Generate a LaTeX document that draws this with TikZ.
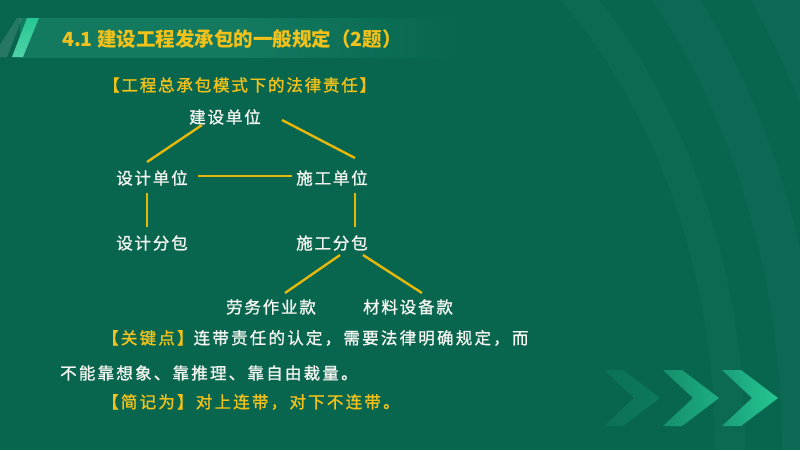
\documentclass[tikz,border=0pt]{standalone}
\usepackage{fontspec}
\setmainfont{Noto Sans CJK SC}
\newfontfamily\cjk[LetterSpace=11,FakeBold=1.2]{Noto Sans CJK SC}
\newfontfamily\cjkp[LetterSpace=13.5,FakeBold=1.2]{Noto Sans CJK SC}
\usetikzlibrary{calc}
\definecolor{bg}{HTML}{08664F}
\definecolor{band}{HTML}{137A60}
\definecolor{ylw}{HTML}{F2C21A}
\definecolor{lnc}{HTML}{E6B80C}
\definecolor{wht}{HTML}{F4F4F0}
\definecolor{chA}{HTML}{1A9E78}
\definecolor{chB}{HTML}{25C793}
\tikzset{
  lbl/.style={inner sep=0pt, text=wht, font=\cjk\fontsize{16.5}{18}\selectfont},
  hdrs/.style={inner sep=0pt, anchor=west, text=ylw, font=\cjk\fontsize{16.5}{18}\selectfont},
  para/.style={inner sep=0pt, anchor=west, text=wht, font=\cjkp\fontsize{16.5}{18}\selectfont},
  link/.style={draw=lnc, line width=2.4pt},
}
\begin{document}
\begin{tikzpicture}[x=1pt,y=-1pt]
\useasboundingbox (0,0) rectangle (800,450);
\fill[bg] (0,0) rectangle (800,450);
% faint background arcs
\begin{scope}
\clip (0,0) rectangle (800,450);
\draw[white, opacity=0.025, line width=40pt] (250,450) ellipse [x radius=552, y radius=709];
\draw[white, opacity=0.02, line width=30pt] (250,450) ellipse [x radius=480, y radius=620];
\draw[white, opacity=0.025, line width=50pt] (250,450) ellipse [x radius=640, y radius=800];
\end{scope}
% title band
\shade[left color=band, right color=bg, middle color=band] (20,18) rectangle (455,57);
\fill[white, opacity=0.12] (17,18) -- (22,18) -- (7,57) -- (0,57) -- (0,45) -- cycle;
\shade[bottom color=chB!80!white, top color=chB] (27,18) -- (39,18) -- (23,57) -- (12,57) -- cycle;
\node[inner sep=0pt, anchor=west, text=ylw, font=\bfseries\fontsize{19.5}{22}\selectfont] (title) at (62,39) {4.1 建设工程发承包的一般规定（2题）};
% chevrons
\foreach \tx/\op in {660/0.2, 719/0.75, 778/1} {
  \shade[left color=chA, right color=chB, opacity=\op] (\tx-56,370) -- (\tx-37,370) -- (\tx,398) -- (\tx-37,426) -- (\tx-56,426) -- (\tx-26,398) -- cycle;
}
% header
\node[hdrs] (hdr) at (103,85) {【工程总承包模式下的法律责任】};
% diagram
\node[lbl] (jsdw) at (225,117) {建设单位};
\node[lbl] (sjdw) at (152,178) {设计单位};
\node[lbl] (sgdw) at (332,178) {施工单位};
\node[lbl] (sjfb) at (152,243) {设计分包};
\node[lbl] (sgfb) at (332,243) {施工分包};
\node[lbl] (lw) at (271,307) {劳务作业款};
\node[lbl] (cl) at (408,307) {材料设备款};
\draw[link] ($(jsdw)+(-23,8)$) -- ($(sjdw)+(-5,-16)$);
\draw[link] ($(jsdw)+(57,3)$) -- ($(sgdw)+(23,-20)$);
\draw[link] ($(sjdw)+(46,-2)$) -- ($(sgdw)+(-40,-2)$);
\draw[link] ($(sjdw)+(-5,15)$) -- ($(sjfb)+(-5,-16)$);
\draw[link] ($(sgdw)+(23,15)$) -- ($(sgfb)+(23,-16)$);
\draw[link] ($(sgfb)+(8,12)$) -- ($(lw)+(14,-14)$);
\draw[link] ($(sgfb)+(31,12)$) -- ($(cl)+(14,-14)$);
% paragraph
\node[para] (p1) at (102,338) {{\color{ylw}【关键点】}连带责任的认定，需要法律明确规定，而};
\node[para] (p2) at (60,373) {不能靠想象、靠推理、靠自由裁量。};
\node[para, text=ylw] (p3) at (102,402) {【简记为】对上连带，对下不连带。};
\end{tikzpicture}
\end{document}
